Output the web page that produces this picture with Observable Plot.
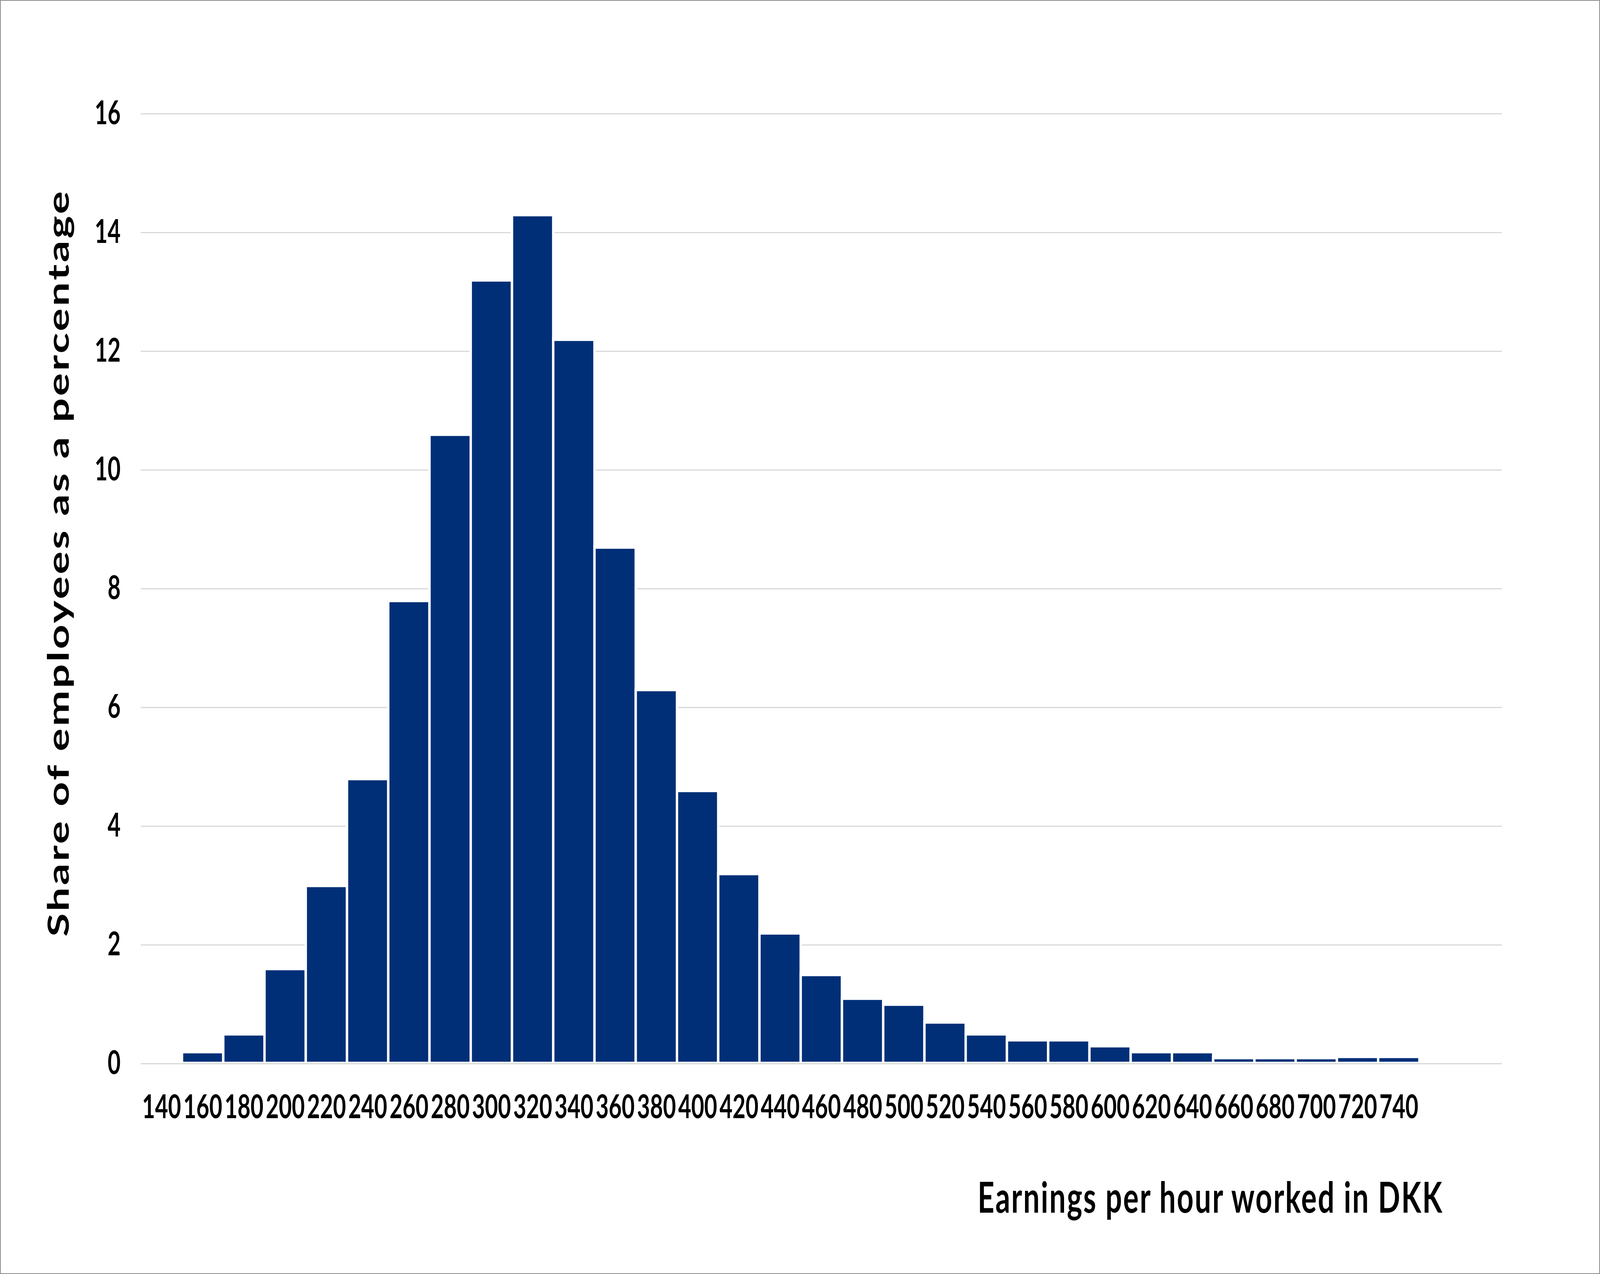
<!DOCTYPE html>
<html>
<head>
<meta charset="utf-8">
<script src="https://cdn.jsdelivr.net/npm/d3@7"></script>
<script src="https://cdn.jsdelivr.net/npm/@observablehq/plot@0.6"></script>
<style>
  html, body { margin: 0; padding: 0; background: #fff; width: 100%; height: 100%; overflow: hidden; }
  #chart { width: 100vw; height: 100vh; }
  #chart svg { display: block; outline: 2px solid #8c8c8c; outline-offset: -2px; background: #fff; }
</style>
</head>
<body>
<div id="chart"></div>
<script>
// Earnings bins (DKK per hour, label of each 20-DKK bin)
const bins = [140, 160, 180, 200, 220, 240, 260, 280, 300, 320, 340, 360, 380, 400, 420, 440,
              460, 480, 500, 520, 540, 560, 580, 600, 620, 640, 660, 680, 700, 720, 740];
// Share of employees (%)
const shares = [0, 0.2, 0.5, 1.6, 3.0, 4.8, 7.8, 10.6, 13.2, 14.3, 12.2, 8.7, 6.3, 4.6, 3.2, 2.2,
                1.5, 1.1, 1.0, 0.7, 0.5, 0.4, 0.4, 0.3, 0.2, 0.2, 0.1, 0.1, 0.1, 0.12, 0.12];
const xTicks = bins;
const yTicks = [0, 2, 4, 6, 8, 10, 12, 14, 16];
const binWidth = 20;
const xTitle = "Earnings per hour worked in DKK";
const yTitle = "Share of employees as a percentage";

const data = bins.map((b, i) => ({ bin: b, share: shares[i] }));

// design size of the reference chart
const W = 6001, H = 3262;
const font = "Lato, 'Open Sans', sans-serif";

const chart = Plot.plot({
  width: W,
  height: H,
  marginLeft: 528,
  marginRight: 368,
  marginTop: 291,
  marginBottom: 539,
  style: { fontFamily: font, background: "#fff", color: "#000" },
  x: { domain: [130, 790], ticks: xTicks, tickFormat: d => String(d) },
  y: { domain: [0, 16], ticks: yTicks },
  marks: [
    Plot.ruleY(yTicks, { stroke: "#d9d9d9", strokeWidth: 3 }),
    Plot.rectY(data, {
      x1: d => d.bin - binWidth / 2,
      x2: d => d.bin + binWidth / 2,
      y: "share",
      fill: "#002f77",
      stroke: "#ffffff",
      strokeWidth: 9
    }),
    Plot.ruleY([0], { stroke: "#d9d9d9", strokeWidth: 3 }),
    Plot.axisX({
      ticks: xTicks,
      tickSize: 0,
      tickPadding: 80,
      fontSize: 84,
      fontWeight: 700,
      fill: "#000",
      label: null
    }),
    Plot.axisY({
      ticks: yTicks,
      tickSize: 0,
      tickPadding: 76,
      fontSize: 84,
      fontWeight: 700,
      fill: "#000",
      label: null
    }),
    Plot.text([xTitle], {
      frameAnchor: "bottom-right",
      textAnchor: "end",
      lineAnchor: "bottom",
      dx: -220,
      dy: 381,
      fontSize: 109,
      fontWeight: 700,
      fill: "#000"
    }),
    Plot.text([yTitle], {
      frameAnchor: "left",
      textAnchor: "middle",
      lineAnchor: "bottom",
      rotate: -90,
      dx: -271,
      dy: -66,
      fontSize: 110,
      fontWeight: 700,
      fill: "#000"
    })
  ]
});

// widen title lettering (reference face is broader than Lato)
const titleGroups = chart.querySelectorAll('g[aria-label="text"]');
if (titleGroups[0]) titleGroups[0].querySelectorAll("text").forEach(t => t.style.letterSpacing = "4.3px");
if (titleGroups[1]) titleGroups[1].querySelectorAll("text").forEach(t => t.style.letterSpacing = "5.2px");

// fit the whole 6001x3262 drawing to the browser window, as the reference fills its frame
chart.setAttribute("viewBox", `0 0 ${W} ${H}`);
chart.setAttribute("preserveAspectRatio", "none");
chart.style.width = "100vw";
chart.style.height = "100vh";
chart.style.maxWidth = "none";

document.getElementById("chart").appendChild(chart);
</script>
</body>
</html>
